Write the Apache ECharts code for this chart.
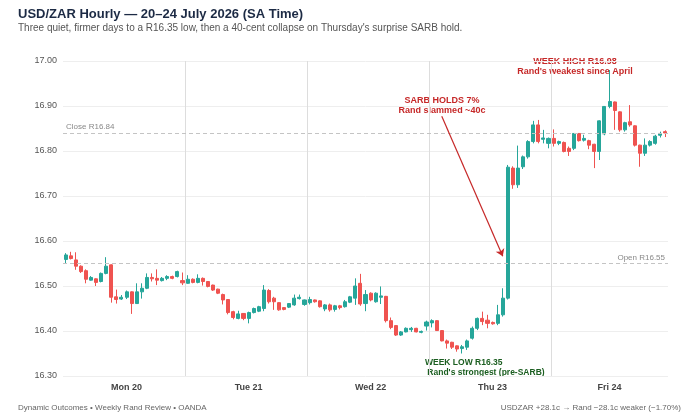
<!DOCTYPE html>
<html>
<head>
<meta charset="utf-8">
<script src="https://cdn.jsdelivr.net/npm/echarts@6/dist/echarts.min.js"></script>
<style>
  html, body { margin: 0; padding: 0; background: #fff; }
  #chart { width: 700px; height: 420px; }
</style>
</head>
<body>
<div id="chart"></div>
<script>
// days on the x axis (Friday closes an hour early)
var dayNames = ['Mon 20', 'Tue 21', 'Wed 22', 'Thu 23', 'Fri 24'];
var hoursPerDay = [24, 24, 24, 24, 23];
var dayLabelIdx = [12, 36, 60, 84, 107];

// hourly OHLC
var opens = [
  16.559, 16.567, 16.558, 16.544, 16.534, 16.513, 16.516, 16.510, 16.528, 16.547, 16.476, 16.471,
  16.475, 16.487, 16.461, 16.487, 16.495, 16.519, 16.517, 16.512, 16.517, 16.521, 16.521, 16.512,
  16.506, 16.515, 16.508, 16.517, 16.510, 16.502, 16.493, 16.481, 16.470, 16.443, 16.428, 16.439,
  16.428, 16.441, 16.444, 16.450, 16.490, 16.473, 16.463, 16.452, 16.453, 16.458, 16.472, 16.459,
  16.463, 16.469, 16.467, 16.449, 16.458, 16.448, 16.456, 16.454, 16.464, 16.473, 16.506, 16.461,
  16.484, 16.465, 16.475, 16.477, 16.423, 16.412, 16.391, 16.398, 16.403, 16.406, 16.397, 16.411,
  16.418, 16.423, 16.401, 16.378, 16.375, 16.367, 16.361, 16.364, 16.384, 16.406, 16.428, 16.424,
  16.419, 16.417, 16.436, 16.473, 16.762, 16.725, 16.765, 16.787, 16.821, 16.858, 16.826, 16.817,
  16.828, 16.817, 16.819, 16.806, 16.806, 16.839, 16.824, 16.823, 16.815, 16.799, 16.838, 16.899,
  16.909, 16.887, 16.847, 16.865, 16.856, 16.813, 16.795, 16.813, 16.817, 16.835, 16.843
];
var closes = [
  16.569, 16.561, 16.544, 16.532, 16.515, 16.519, 16.508, 16.528, 16.544, 16.475, 16.470, 16.475,
  16.487, 16.461, 16.487, 16.495, 16.519, 16.516, 16.513, 16.517, 16.521, 16.517, 16.532, 16.507,
  16.515, 16.508, 16.517, 16.510, 16.499, 16.491, 16.484, 16.469, 16.441, 16.430, 16.438, 16.428,
  16.441, 16.450, 16.454, 16.491, 16.465, 16.465, 16.447, 16.448, 16.461, 16.473, 16.475, 16.469,
  16.470, 16.465, 16.454, 16.458, 16.447, 16.456, 16.452, 16.465, 16.476, 16.500, 16.460, 16.481,
  16.469, 16.484, 16.478, 16.423, 16.408, 16.391, 16.398, 16.406, 16.406, 16.398, 16.399, 16.420,
  16.423, 16.401, 16.378, 16.373, 16.364, 16.360, 16.365, 16.378, 16.406, 16.428, 16.421, 16.417,
  16.416, 16.436, 16.473, 16.764, 16.725, 16.762, 16.787, 16.821, 16.858, 16.821, 16.829, 16.828,
  16.817, 16.821, 16.799, 16.799, 16.839, 16.823, 16.828, 16.813, 16.799, 16.867, 16.899, 16.910,
  16.890, 16.847, 16.863, 16.858, 16.813, 16.795, 16.813, 16.821, 16.833, 16.839, 16.840
];
var lows = [
  16.550, 16.559, 16.536, 16.529, 16.506, 16.512, 16.500, 16.508, 16.526, 16.463, 16.461, 16.469,
  16.471, 16.438, 16.460, 16.472, 16.493, 16.510, 16.502, 16.510, 16.513, 16.515, 16.519, 16.502,
  16.505, 16.506, 16.506, 16.501, 16.497, 16.489, 16.482, 16.459, 16.437, 16.426, 16.426, 16.424,
  16.417, 16.439, 16.442, 16.444, 16.461, 16.447, 16.445, 16.446, 16.451, 16.456, 16.470, 16.456,
  16.459, 16.463, 16.452, 16.444, 16.443, 16.443, 16.448, 16.452, 16.462, 16.458, 16.456, 16.444,
  16.466, 16.463, 16.460, 16.419, 16.404, 16.389, 16.389, 16.397, 16.398, 16.397, 16.395, 16.401,
  16.408, 16.400, 16.377, 16.361, 16.360, 16.354, 16.350, 16.358, 16.381, 16.402, 16.413, 16.406,
  16.414, 16.413, 16.432, 16.470, 16.716, 16.718, 16.760, 16.783, 16.817, 16.817, 16.817, 16.806,
  16.810, 16.813, 16.797, 16.789, 16.802, 16.821, 16.821, 16.804, 16.762, 16.780, 16.835, 16.895,
  16.847, 16.843, 16.843, 16.854, 16.810, 16.765, 16.789, 16.810, 16.814, 16.830, 16.831
];
var highs = [
  16.573, 16.576, 16.575, 16.546, 16.537, 16.522, 16.517, 16.530, 16.564, 16.548, 16.492, 16.480,
  16.490, 16.488, 16.506, 16.506, 16.528, 16.528, 16.537, 16.520, 16.524, 16.523, 16.534, 16.530,
  16.524, 16.517, 16.526, 16.519, 16.511, 16.503, 16.494, 16.483, 16.471, 16.445, 16.445, 16.440,
  16.443, 16.452, 16.456, 16.502, 16.493, 16.476, 16.464, 16.453, 16.462, 16.481, 16.481, 16.470,
  16.476, 16.470, 16.468, 16.460, 16.461, 16.458, 16.458, 16.469, 16.478, 16.517, 16.527, 16.491,
  16.486, 16.486, 16.499, 16.478, 16.430, 16.413, 16.400, 16.408, 16.409, 16.407, 16.401, 16.423,
  16.426, 16.424, 16.402, 16.381, 16.376, 16.368, 16.369, 16.381, 16.410, 16.430, 16.443, 16.436,
  16.421, 16.458, 16.495, 16.769, 16.766, 16.812, 16.790, 16.824, 16.867, 16.869, 16.847, 16.830,
  16.848, 16.823, 16.821, 16.810, 16.840, 16.840, 16.836, 16.825, 16.816, 16.868, 16.900, 16.980,
  16.910, 16.888, 16.865, 16.902, 16.857, 16.814, 16.828, 16.824, 16.836, 16.843, 16.846
];

// reference levels
var weekOpen = 16.55;
var weekClose = 16.84;

var categories = [];
var dayStarts = [];
dayNames.forEach(function (d, k) {
  dayStarts.push(categories.length);
  for (var h = 0; h < hoursPerDay[k]; h++) {
    categories.push(d + ' ' + (h < 10 ? '0' + h : h) + ':00');
  }
});

var ohlc = [];
for (var i = 0; i < opens.length; i++) {
  ohlc.push([opens[i], closes[i], lows[i], highs[i]]);
}

var UP = '#26a69a', DOWN = '#ef5350';
var RED = '#c62828', GREEN = '#1b5e20';
var FONT = 'Liberation Sans, Arial, sans-serif';

var chart = echarts.init(document.getElementById('chart'), null, { renderer: 'canvas' });

var option = {
  animation: false,
  textStyle: { fontFamily: FONT },
  title: {
    text: 'USD/ZAR Hourly \u2014 20\u201324 July 2026 (SA Time)',
    subtext: 'Three quiet, firmer days to a R16.35 low, then a 40-cent collapse on Thursday\'s surprise SARB hold.',
    left: 13,
    top: 3,
    itemGap: 2,
    textStyle: { fontSize: 13, fontWeight: 'bold', color: '#1c2a44' },
    subtextStyle: { fontSize: 10, color: '#555' }
  },
  grid: { left: 63, right: 32, top: 61, bottom: 44 },
  xAxis: {
    type: 'category',
    data: categories,
    boundaryGap: true,
    axisLine: { show: false },
    axisTick: { show: false },
    axisLabel: {
      interval: function (idx) { return dayLabelIdx.indexOf(idx) >= 0; },
      formatter: function (v) { return v.split(' ').slice(0, 2).join(' '); },
      fontSize: 9,
      fontWeight: 'bold',
      color: '#444',
      margin: 7
    },
    // day separators at the first hour of each day (no line at the right edge)
    splitLine: {
      show: true,
      showMinLine: true,
      showMaxLine: false,
      interval: function (idx) { return dayStarts.indexOf(idx) > 0; },
      lineStyle: { color: '#dddddd', width: 1 }
    }
  },
  yAxis: {
    type: 'value',
    min: 16.3,
    max: 17.0,
    interval: 0.1,
    axisLine: { show: false },
    axisTick: { show: false },
    axisLabel: {
      formatter: function (v) { return v.toFixed(2); },
      fontSize: 9,
      color: '#555',
      margin: 6
    },
    splitLine: { lineStyle: { color: '#eeeeee' } }
  },
  series: [{
    type: 'candlestick',
    data: ohlc,
    barWidth: '70%',
    itemStyle: {
      color: UP,
      color0: DOWN,
      borderColor: UP,
      borderColor0: DOWN,
      borderWidth: 1
    },
    emphasis: { disabled: true },
    markLine: {
      silent: true,
      symbol: ['none', 'none'],
      animation: false,
      data: [
        {
          yAxis: weekClose,
          lineStyle: { color: '#c4c4c4', type: [4, 3], width: 1 },
          label: { formatter: 'Close R16.84', position: 'insideStartTop', color: '#888', fontSize: 8, distance: [3, 2] }
        },
        {
          yAxis: weekOpen,
          lineStyle: { color: '#c4c4c4', type: [4, 3], width: 1 },
          label: { formatter: 'Open R16.55', position: 'insideEndTop', color: '#888', fontSize: 8, distance: [3, 2] }
        },
        [
          { coord: [73.9, 16.877], symbol: 'none' },
          {
            coord: [86, 16.566],
            symbol: 'arrow',
            symbolSize: 7,
            lineStyle: { color: RED, width: 1.2, type: 'solid' },
            label: { show: false }
          }
        ]
      ]
    }
  }],
  graphic: [
    {
      type: 'text',
      style: {
        x: 575, y: 57, text: 'WEEK HIGH R16.98\nRand\'s weakest since April',
        align: 'center', fill: RED, font: 'bold 9px ' + FONT, lineHeight: 10
      }
    },
    {
      type: 'text',
      style: {
        x: 442, y: 96, text: 'SARB HOLDS 7%\nRand slammed ~40c',
        align: 'center', fill: RED, font: 'bold 9px ' + FONT, lineHeight: 10
      }
    },
    {
      type: 'text',
      style: {
        x: 425, y: 358, text: 'WEEK LOW R16.35\n Rand\'s strongest (pre-SARB)',
        align: 'left', fill: GREEN, font: 'bold 8.5px ' + FONT, lineHeight: 10
      }
    },
    {
      type: 'text',
      style: {
        x: 18, y: 404, text: 'Dynamic Outcomes \u2022 Weekly Rand Review \u2022 OANDA',
        fill: '#666', font: '8px ' + FONT
      }
    },
    {
      type: 'text',
      style: {
        x: 681, y: 404, text: 'USDZAR +28.1c \u2192 Rand \u221228.1c weaker (\u22121.70%)',
        align: 'right', fill: '#666', font: '8px ' + FONT
      }
    }
  ]
};

chart.setOption(option);
</script>
</body>
</html>
